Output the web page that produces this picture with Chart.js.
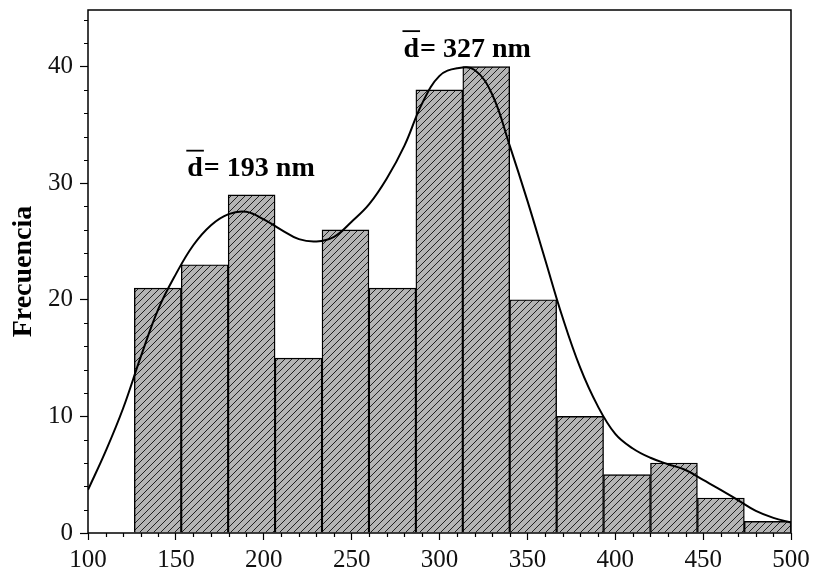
<!DOCTYPE html>
<html>
<head>
<meta charset="utf-8">
<script src="https://cdn.jsdelivr.net/npm/chart.js@4"></script>
<style>
  html, body { margin: 0; padding: 0; background: #fff; }
  #caja { width: 825px; height: 571px; }
</style>
</head>
<body>
<div id="caja"><canvas id="grafico"></canvas></div>
<script>
// Centros de las clases del histograma (nm) y frecuencias
const centros = [139.7, 166.4, 193.1, 219.8, 246.5, 273.2, 299.9, 326.6, 353.3, 380.0, 406.7, 433.4, 460.1, 486.8];
const frecuencias = [21, 23, 29, 15, 26, 21, 38, 40, 20, 10, 5, 6, 3, 1];

// Curva de ajuste (distribución bimodal), cada 10 nm
const curvaX = [100, 110, 120, 130, 140, 150, 160, 170, 180, 190, 200, 210, 220, 230, 240, 250, 260, 270, 280, 290, 300,
                310, 320, 330, 340, 350, 360, 370, 380, 390, 400, 410, 420, 430, 440, 450, 460, 470, 480, 490, 500];
const curvaY = [3.7, 7.0, 10.7, 15.1, 19.2, 22.2, 24.7, 26.4, 27.35, 27.55, 26.9, 26.0, 25.2, 25.0, 25.4, 26.7, 28.2, 30.4, 33.2, 36.8, 39.2,
                39.85, 39.7, 37.6, 33.2, 28.5, 23.5, 18.5, 14.2, 10.9, 8.5, 7.25, 6.45, 5.9, 5.4, 4.55, 3.7, 2.8, 1.9, 1.3, 0.9];

// Diámetros medios anotados sobre cada máximo
const medias = [193, 327];
const posMedias = [{ x: 156.5, y: 30.6 }, { x: 279.5, y: 40.85 }];

const fuente = "'Liberation Serif', 'Times New Roman', serif";

// Relleno gris con rayado diagonal
function crearRayado() {
  const s = 7;
  const c = document.createElement('canvas');
  c.width = s; c.height = s;
  const g = c.getContext('2d');
  g.fillStyle = '#b4b4b4';
  g.fillRect(0, 0, s, s);
  g.strokeStyle = '#202020';
  g.lineWidth = 1;
  g.beginPath();
  g.moveTo(-1, s + 1); g.lineTo(s + 1, -1);
  g.moveTo(-1, 1); g.lineTo(1, -1);
  g.moveTo(s - 1, s + 1); g.lineTo(s + 1, s - 1);
  g.stroke();
  return g.createPattern(c, 'repeat');
}

// Marco, marcas menores y etiquetas de la media
const extras = {
  id: 'extras',
  afterDraw(chart) {
    const { ctx, chartArea: a, scales: { x, y } } = chart;
    ctx.save();
    ctx.strokeStyle = '#000';
    ctx.lineWidth = 1.5;
    ctx.strokeRect(a.left, a.top, a.right - a.left, a.bottom - a.top);

    // marcas menores: cada 10 nm en x, cada 2 en y
    ctx.lineWidth = 1.2;
    ctx.beginPath();
    for (let v = x.min; v <= x.max; v += 10) {
      if (v % 50 === 0) continue;
      const px = Math.round(x.getPixelForValue(v)) + 0.5;
      ctx.moveTo(px, a.bottom); ctx.lineTo(px, a.bottom + 4);
    }
    y.ticks.forEach(t => {
      if (t.value % 10 !== 0) {
        const py = Math.round(y.getPixelForValue(t.value)) + 0.5;
        ctx.moveTo(a.left, py); ctx.lineTo(a.left - 4, py);
      }
    });
    ctx.stroke();

    // d con barra = valor medio
    ctx.fillStyle = '#000';
    ctx.font = 'bold 28px ' + fuente;
    ctx.textBaseline = 'alphabetic';
    ctx.textAlign = 'left';
    medias.forEach((m, i) => {
      const px = x.getPixelForValue(posMedias[i].x);
      const py = y.getPixelForValue(posMedias[i].y);
      ctx.fillText('d', px, py);
      const w = ctx.measureText('d').width;
      ctx.lineWidth = 1.8;
      ctx.beginPath();
      ctx.moveTo(px - 1, py - 25.5);
      ctx.lineTo(px + w + 1, py - 25.5);
      ctx.stroke();
      ctx.fillText('= ' + m + ' nm', px + w + 1, py);
    });
    ctx.restore();
  }
};

new Chart(document.getElementById('grafico'), {
  data: {
    datasets: [
      {
        type: 'line',
        data: curvaX.map((v, i) => ({ x: v, y: curvaY[i] })),
        borderColor: '#000',
        borderWidth: 2,
        pointRadius: 0,
        tension: 0.4,
        fill: false,
        order: 0
      },
      {
        type: 'bar',
        data: centros.map((c, i) => ({ x: c, y: frecuencias[i] })),
        backgroundColor: crearRayado(),
        borderColor: '#000',
        borderWidth: 1.4,
        barPercentage: 1,
        categoryPercentage: 1,
        order: 1
      }
    ]
  },
  options: {
    responsive: true,
    maintainAspectRatio: false,
    animation: false,
    layout: { padding: { top: 10, right: 34, left: 0, bottom: 0 } },
    plugins: { legend: { display: false }, tooltip: { enabled: false } },
    scales: {
      x: {
        type: 'linear',
        min: 100,
        max: 500,
        offset: false,
        afterFit: s => { s.height = 38; },
        border: { display: false },
        grid: {
          offset: false,
          drawOnChartArea: false,
          tickLength: 7,
          tickWidth: 1.2,
          tickColor: '#000'
        },
        ticks: {
          stepSize: 50,
          autoSkip: false,
          maxRotation: 0,
          padding: 5,
          color: '#111',
          font: { family: fuente, size: 25 }
        }
      },
      y: {
        min: 0,
        max: 44.85,
        afterFit: s => { s.width = 88; s.paddingTop = 0; },
        border: { display: false },
        grid: {
          drawOnChartArea: false,
          tickLength: 8,
          tickWidth: 1.2,
          tickColor: c => (c.tick && c.tick.value % 10 === 0 ? '#000' : 'rgba(0,0,0,0)')
        },
        ticks: {
          stepSize: 2,
          includeBounds: false,
          autoSkip: false,
          padding: 7,
          color: '#111',
          font: { family: fuente, size: 25 },
          callback: v => (v % 10 === 0 ? v : '')
        },
        title: {
          display: true,
          text: 'Frecuencia',
          color: '#000',
          padding: { top: 7, bottom: 0 },
          font: { family: fuente, size: 28, weight: 'bold' }
        }
      }
    }
  },
  plugins: [extras]
});
</script>
</body>
</html>
